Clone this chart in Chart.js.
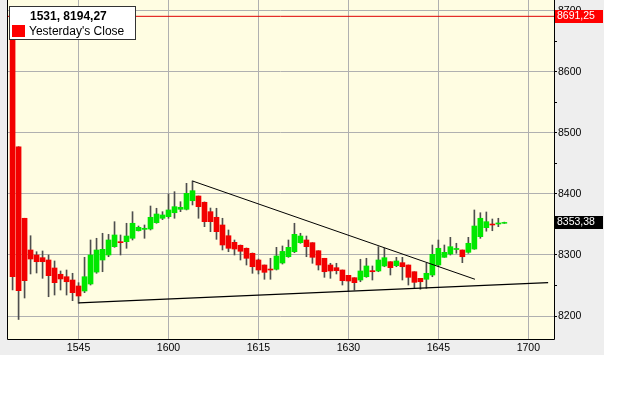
<!DOCTYPE html>
<html><head><meta charset="utf-8">
<script src="https://cdn.jsdelivr.net/npm/chart.js@4.4.1/dist/chart.umd.min.js"></script>
<style>
html,body{margin:0;padding:0;background:#fff;}
#wrap{position:absolute;left:0;top:0;width:604px;height:355px;}
</style></head><body>
<div id="wrap"><canvas id="c" width="604" height="355"></canvas></div>
<script>
// minutes since midnight (15:34 ... 16:56)
const times = [934,935,936,937,938,939,940,941,942,943,944,945,946,947,948,949,950,951,952,953,954,955,956,957,958,959,960,961,962,963,964,965,966,967,968,969,970,971,972,973,974,975,976,977,978,979,980,981,982,983,984,985,986,987,988,989,990,991,992,993,994,995,996,997,998,999,1000,1001,1002,1003,1004,1005,1006,1007,1008,1009,1010,1011,1012,1013,1014,1015,1016];
const opens = [8690,8477.5,8360.2,8308.2,8300.0,8295.6,8291.8,8278.7,8268.4,8264.4,8259.0,8249.2,8241.0,8252.5,8272.0,8291.8,8300.0,8313.6,8321.8,8321.8,8327.4,8339.8,8342.0,8342.6,8353.0,8360.2,8362.8,8369.3,8374.9,8374.9,8389.0,8396.7,8386.4,8371.0,8361.8,8349.2,8331.6,8320.8,8315.9,8311.0,8302.8,8291.8,8283.6,8277.0,8276.6,8286.9,8297.2,8305.4,8320.2,8324.6,8320.2,8307.0,8294.6,8283.6,8279.2,8275.4,8266.7,8262.8,8259.0,8264.4,8274.3,8273.8,8282.0,8289.0,8282.5,8287.4,8283.6,8272.6,8261.8,8260.2,8267.2,8283.6,8296.2,8301.6,8309.0,8308.2,8304.4,8309.8,8330.0,8344.8,8350.8,8350.8,8352.0];
const highs = [8700,8477.5,8360.2,8331.6,8305.4,8306.6,8300.0,8290.2,8273.8,8275.4,8270.0,8254.6,8296.2,8324.6,8327.4,8335.6,8333.8,8354.6,8332.8,8352.0,8371.0,8347.5,8349.2,8380.3,8376.6,8371.0,8400.0,8403.8,8387.4,8417.5,8421.3,8396.7,8387.0,8377.0,8376.6,8360.2,8341.0,8324.6,8316.4,8311.5,8303.3,8293.4,8283.6,8294.6,8312.6,8314.8,8324.6,8352.0,8335.6,8331.1,8320.2,8307.0,8294.6,8286.4,8286.4,8275.4,8266.7,8262.8,8293.0,8294.6,8282.0,8313.6,8311.0,8289.0,8296.2,8296.2,8283.6,8272.6,8261.8,8286.4,8316.4,8324.6,8316.4,8329.0,8319.2,8308.2,8329.0,8373.8,8369.3,8370.5,8359.0,8360.2,8353.9];
const lows = [8242.6,8194.3,8229.5,8268.9,8270.5,8261.8,8231.6,8234.4,8242.6,8234.4,8225.1,8220.8,8238.2,8250.8,8270.0,8272.6,8297.2,8312.6,8300.0,8311.0,8324.6,8339.3,8327.4,8341.0,8352.0,8358.0,8360.2,8360.2,8371.0,8373.8,8382.0,8360.2,8346.4,8338.2,8325.7,8308.2,8305.4,8300.0,8291.8,8283.6,8270.0,8268.9,8260.2,8260.2,8275.4,8285.2,8296.2,8303.8,8319.2,8297.2,8286.4,8275.4,8263.4,8261.8,8268.9,8250.8,8239.9,8242.6,8256.2,8263.4,8259.0,8272.6,8280.8,8267.2,8280.8,8259.0,8250.8,8245.4,8243.8,8245.4,8264.4,8280.8,8296.2,8300.0,8302.8,8287.4,8302.8,8309.3,8327.4,8339.0,8339.8,8346.4,8351.7];
const closes = [8264.4,8241.5,8257.9,8293.4,8289.0,8289.0,8266.1,8254.6,8260.7,8256.2,8238.2,8232.8,8264.4,8300.0,8308.2,8309.3,8324.6,8332.8,8320.2,8331.1,8352.0,8345.4,8343.8,8361.8,8367.2,8365.6,8373.8,8379.2,8378.2,8401.1,8405.4,8379.2,8354.6,8354.6,8338.2,8316.4,8311.0,8309.8,8306.1,8294.6,8280.8,8275.4,8271.6,8275.4,8298.4,8305.9,8312.6,8333.9,8331.1,8313.6,8296.2,8283.6,8272.6,8273.8,8274.3,8257.9,8257.4,8254.6,8273.8,8282.0,8272.6,8291.8,8295.6,8279.2,8290.2,8280.8,8263.4,8255.2,8256.2,8270.0,8301.1,8311.0,8304.4,8313.6,8310.7,8297.2,8319.2,8347.5,8360.2,8354.6,8349.2,8352.5,8353.38];

const yesterdayClose = 8691.25;
const lastPrice = 8353.38;
const legendTitle = '1531, 8194,27';
const legendLabel = "Yesterday's Close";

const xTickValues = [945,960,975,990,1005,1020];
const xTickLabels = ['1545','1600','1615','1630','1645','1700'];
const yTickValues = [8200,8250,8300,8350,8400,8450,8500,8550,8600,8650,8700];
const yTickLabels = ['8200','','8300','','8400','','8500','','8600','','8700'];

const xMin = 933.07, xMax = 1024.28;
const yMin = 8162.3, yMax = 8718.0;

const trendDown = [{x:964,y:8421.3},{x:1011.1,y:8260.2}];
const trendSupport = [{x:945,y:8221.5},{x:1023.3,y:8254.6}];
const closeLine = [{x:xMin,y:yesterdayClose},{x:xMax,y:yesterdayClose}];

const UP = '#00E800', DOWN = '#F20000', WICK = '#4E4E4E';
const FONT = '"Liberation Sans", Arial, sans-serif';

const bodies = times.map((t,i)=>({x:t, y:[opens[i], closes[i]]}));
const wicks = times.map((t,i)=>({x:t, y:[lows[i], highs[i]]}));
const bodyColors = times.map((t,i)=> closes[i] >= opens[i] ? UP : DOWN);

const decor = {
  id:'decor',
  beforeDraw(chart){
    const {ctx, chartArea:a} = chart;
    ctx.save();
    ctx.fillStyle = '#EEEEEE';
    ctx.fillRect(0,0,chart.width,chart.height);
    ctx.fillStyle = '#FFFDE2';
    ctx.fillRect(a.left,a.top,a.right-a.left,a.bottom-a.top);
    ctx.restore();
  },
  afterDraw(chart){
    const {ctx, chartArea:a} = chart;
    const ys = chart.scales.y;
    ctx.save();
    // frame
    ctx.strokeStyle = '#000';
    ctx.lineWidth = 1;
    ctx.beginPath();
    ctx.moveTo(a.left+0.5, a.top);
    ctx.lineTo(a.left+0.5, a.bottom+0.5);
    ctx.lineTo(a.right+0.5, a.bottom+0.5);
    ctx.lineTo(a.right+0.5, a.top);
    ctx.stroke();
    // value boxes on the axis
    const box = (v, bg) => {
      const py = Math.round(ys.getPixelForValue(v));
      ctx.fillStyle = bg;
      ctx.fillRect(a.right+1, py-6, 48, 13);
      ctx.fillStyle = '#fff';
      ctx.font = '10.5px ' + FONT;
      ctx.textBaseline = 'middle';
      ctx.textAlign = 'left';
      ctx.fillText(v.toFixed(2).replace('.', ','), a.right+3, py+0.5);
    };
    box(yesterdayClose, '#FF0000');
    box(lastPrice, '#000000');
    // legend
    ctx.fillStyle = '#fff';
    ctx.fillRect(9.5, 6.5, 126, 33);
    ctx.strokeStyle = '#333';
    ctx.strokeRect(9.5, 6.5, 126, 33);
    ctx.fillStyle = '#000';
    ctx.font = 'bold 12px ' + FONT;
    ctx.textBaseline = 'middle';
    ctx.textAlign = 'left';
    ctx.fillText(legendTitle, 30, 16.5);
    ctx.fillStyle = '#FF0000';
    ctx.fillRect(12, 25, 13, 12);
    ctx.fillStyle = '#000';
    ctx.font = '12px ' + FONT;
    ctx.fillText(legendLabel, 29, 31.5);
    ctx.restore();
  }
};

new Chart(document.getElementById('c'), {
  type:'bar',
  data:{
    datasets:[
      {type:'line', data:trendDown, borderColor:'#000', borderWidth:1, pointRadius:0, fill:false, order:0},
      {type:'line', data:trendSupport, borderColor:'#000', borderWidth:1.3, pointRadius:0, fill:false, order:0},
      {type:'line', data:closeLine, borderColor:'#E00000', borderWidth:1, pointRadius:0, fill:false, order:0},
      {data:bodies, backgroundColor:bodyColors, borderWidth:0, barThickness:5, grouped:false, order:1},
      {data:wicks, backgroundColor:WICK, borderWidth:0, barThickness:1, grouped:false, order:2}
    ]
  },
  options:{
    responsive:false,
    animation:false,
    events:[],
    layout:{padding:{left:7, top:0, right:0, bottom:0}},
    plugins:{legend:{display:false}, tooltip:{enabled:false}},
    scales:{
      x:{
        type:'linear', min:xMin, max:xMax, offset:false,
        grid:{color:'#B0B0B0', lineWidth:1, drawTicks:false, offset:false},
        border:{display:false},
        afterBuildTicks(s){ s.ticks = xTickValues.map(v=>({value:v})); },
        afterFit(s){ s.height = 16; s.paddingLeft = 0; s.paddingRight = 0; },
        ticks:{color:'#000', padding:3, font:{family:FONT, size:10.5}, maxRotation:0, autoSkip:false,
          callback:(v,i)=>xTickLabels[i]}
      },
      y:{
        position:'right', min:yMin, max:yMax, beginAtZero:false,
        grid:{color:c=> (c.tick && c.tick.value % 100 === 0) ? '#B0B0B0' : 'rgba(0,0,0,0)', drawTicks:true, tickLength:3, tickColor:'#000'},
        border:{display:false},
        afterBuildTicks(s){ s.ticks = yTickValues.map(v=>({value:v})); },
        afterFit(s){ s.width = 50; s.paddingTop = 0; s.paddingBottom = 0; },
        ticks:{color:'#000', padding:1, font:{family:FONT, size:10.5}, autoSkip:false,
          callback:(v,i)=>yTickLabels[i]}
      }
    }
  },
  plugins:[decor]
});
</script>
</body></html>
